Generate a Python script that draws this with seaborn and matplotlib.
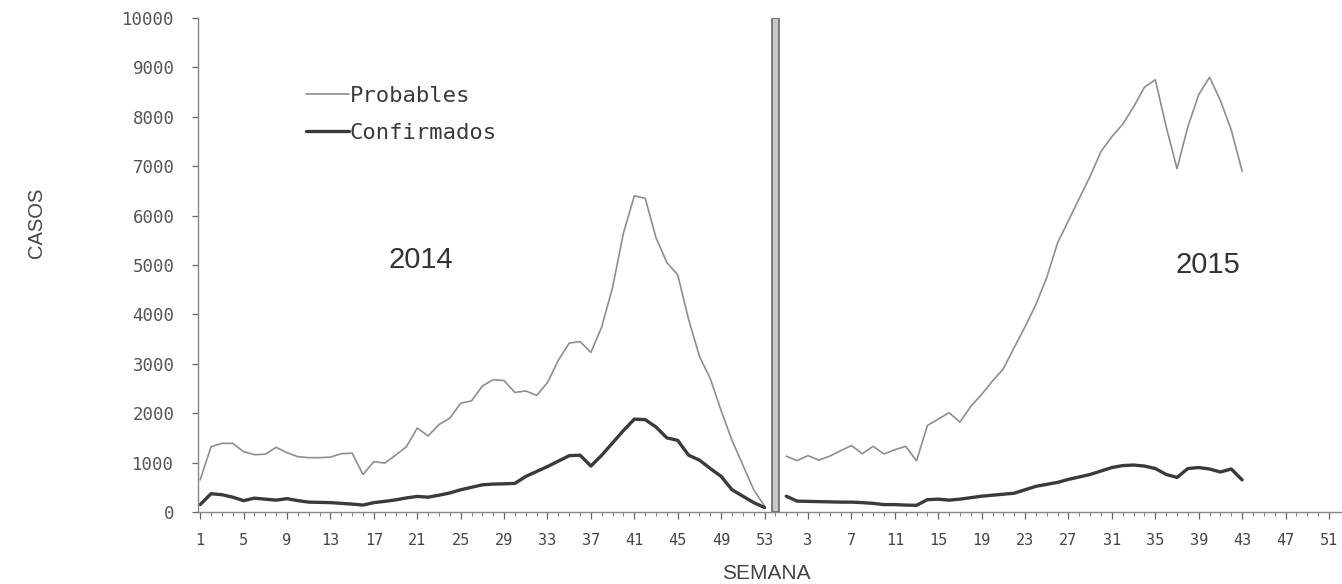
import pandas as pd
import numpy as np
import matplotlib.pyplot as plt
import seaborn as sns

# semanas epidemiologicas (2014 tiene 53, 2015 llega hasta la 43)
weeks_2014 = list(range(1, 54))
weeks_2015 = list(range(1, 44))

probables_2014 = [650, 1320, 1390, 1390, 1220, 1160, 1170, 1310, 1200, 1120,
                  1100, 1100, 1110, 1180, 1190, 760, 1020, 990, 1150, 1320,
                  1700, 1540, 1770, 1900, 2200, 2250, 2550, 2680, 2660, 2420,
                  2450, 2360, 2620, 3070, 3420, 3450, 3230, 3750, 4550, 5650,
                  6400, 6350, 5550, 5050, 4800, 3900, 3150, 2700, 2050, 1450,
                  950, 450, 120]
confirmados_2014 = [150, 370, 350, 300, 230, 280, 260, 240, 270, 230,
                    200, 195, 190, 175, 160, 140, 190, 215, 245, 285,
                    315, 300, 340, 385, 450, 500, 550, 565, 570, 580,
                    720, 820, 920, 1030, 1140, 1150, 930, 1150, 1400, 1650,
                    1880, 1870, 1720, 1500, 1450, 1150, 1050, 880, 720, 450,
                    320, 190, 90]
probables_2015 = [1130, 1040, 1140, 1050, 1130, 1240, 1345, 1180, 1330, 1175,
                  1260, 1330, 1035, 1750, 1880, 2010, 1820, 2140, 2380, 2650,
                  2900, 3330, 3750, 4200, 4750, 5450, 5900, 6350, 6800, 7300,
                  7600, 7850, 8200, 8600, 8750, 7800, 6950, 7800, 8450, 8800,
                  8330, 7730, 6900]
confirmados_2015 = [320, 220, 215, 210, 205, 200, 200, 190, 175, 150,
                    150, 140, 135, 250, 260, 240, 260, 290, 320, 340,
                    360, 380, 450, 520, 560, 600, 660, 710, 760, 830,
                    900, 940, 950, 930, 880, 760, 700, 880, 900, 870,
                    810, 870, 650]

tick_labels = ['1', '5', '9', '13', '17', '21', '25', '29', '33', '37', '41',
               '45', '49', '53', '3', '7', '11', '15', '19', '23', '27', '31',
               '35', '39', '43', '47', '51']
divider_height = 10000

# 2014 ocupa posiciones 1..53, la barra la 54 y 2015 sigue desde la 55
offset_2015 = len(weeks_2014) + 1
divider_pos = len(weeks_2014) + 1

rows = []
for serie, vals in [('Probables', probables_2014), ('Confirmados', confirmados_2014)]:
    for w, v in zip(weeks_2014, vals):
        rows.append({'pos': w, 'casos': v, 'serie': serie, 'anio': 2014})
for serie, vals in [('Probables', probables_2015), ('Confirmados', confirmados_2015)]:
    for w, v in zip(weeks_2015, vals):
        rows.append({'pos': w + offset_2015, 'casos': v, 'serie': serie, 'anio': 2015})
df = pd.DataFrame(rows)

sns.set_style('white')
plt.rcParams['font.family'] = ['Liberation Sans', 'DejaVu Sans']

fig = plt.figure(figsize=(13.42, 5.84), dpi=100)
ax = fig.add_axes([198 / 1342, 72 / 584, 1 - 198 / 1342, 494 / 584])

ax.bar([divider_pos], [divider_height], width=0.6, color='#c8c8c8',
       edgecolor='#6a6a6a', linewidth=1.2, zorder=3)

sns.lineplot(data=df, x='pos', y='casos', hue='serie', size='serie', units='anio',
             estimator=None, hue_order=['Probables', 'Confirmados'],
             palette={'Probables': '#8e8e8e', 'Confirmados': '#3a3a3a'},
             sizes={'Probables': 1.2, 'Confirmados': 2.4}, ax=ax)

handles, labels = ax.get_legend_handles_labels()
ax.legend(handles=handles, labels=labels, loc='upper left',
          bbox_to_anchor=(0.085, 0.885), frameon=False, borderpad=0,
          handlelength=1.9, handletextpad=0.05, labelspacing=0.75,
          prop={'family': 'DejaVu Sans Mono', 'size': 16}, labelcolor='#3a3a3a')

ax.text(21.3, 5100, '2014', fontsize=21, color='#333333', ha='center', va='center')
ax.text(93.8, 5000, '2015', fontsize=21, color='#333333', ha='center', va='center')

ax.set_xlim(0.8, 106.2)
ax.set_ylim(0, 10000)
ax.set_yticks(np.arange(0, 10001, 1000))
ax.set_xticks(np.arange(1, 106, 4))
ax.set_xticks(np.arange(1, 106, 1), minor=True)
ax.set_xticklabels(tick_labels)

for lab in ax.get_xticklabels() + ax.get_yticklabels():
    lab.set_family('DejaVu Sans Mono')
ax.tick_params(axis='x', which='both', bottom=True)
ax.tick_params(axis='y', which='both', left=True)
ax.tick_params(axis='x', which='major', direction='out', length=5, width=0.9,
               color='#666666', labelsize=11, labelcolor='#444444', pad=10)
ax.tick_params(axis='x', which='minor', direction='out', length=3, width=0.7,
               color='#777777')
ax.tick_params(axis='y', direction='out', length=4, width=0.9, color='#666666',
               labelsize=12.5, labelcolor='#555555', pad=13)

sns.despine(ax=ax, top=True, right=True)
for side in ['left', 'bottom']:
    ax.spines[side].set_color('#888888')
    ax.spines[side].set_linewidth(1.0)

ax.set_xlabel('SEMANA', fontsize=15, color='#444444')
ax.xaxis.set_label_coords(0.4965, -0.105)
ax.set_ylabel('CASOS', fontsize=14.5, color='#444444')
ax.yaxis.set_label_coords(-0.133, 0.585)

fig.savefig('out.png', dpi=100)
